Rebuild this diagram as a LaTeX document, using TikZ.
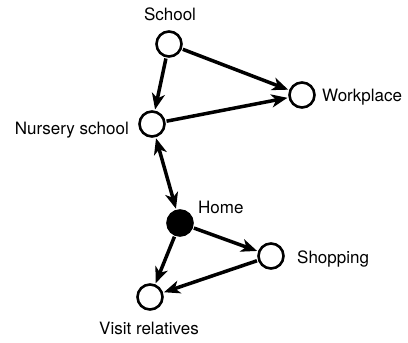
\documentclass[tikz,border=0pt]{standalone}
\usepackage{fontspec}
\setmainfont{TeX Gyre Heros}
\usetikzlibrary{arrows.meta}

\tikzset{
  >={Stealth[length=16pt, width=13pt, inset=4.5pt]},
  place/.style={circle, draw, line width=2.6pt, minimum size=25pt, inner sep=0pt, fill=white},
  home/.style={place, fill=black},
  tag/.style={font=\fontsize{17}{20}\selectfont, inner sep=1pt},
  trip/.style={line width=3.5pt, ->, shorten >=1pt, shorten <=1pt}
}

\begin{document}
\begin{tikzpicture}[x=1pt,y=-1pt]
    \useasboundingbox (0,0) rectangle (408,343);

    \node[place] (sch) at (169,44) {};
    \node[place] (wrk) at (302,95) {};
    \node[place] (nur) at (152,124) {};
    \node[home] (hom) at (180,223) {};
    \node[place] (shp) at (271,256) {};
    \node[place] (vis) at (150,297) {};

    \node[tag] (schl) at (170,14) {School};
    \node[tag, anchor=west] (wrkl) at (321,97) {Workplace};
    \node[tag, anchor=east] (nurl) at (130,130) {Nursery school};
    \node[tag, anchor=west] (homl) at (197,207) {Home};
    \node[tag, anchor=west] (shpl) at (296,259) {Shopping};
    \node[tag] (visl) at (149,328) {Visit relatives};

    \draw[trip] (sch) to (nur);
    \draw[trip] (sch) to (wrk);
    \draw[trip] (nur) to (wrk);
    \draw[trip, <->] (nur) to (hom);
    \draw[trip] (hom) to (shp);
    \draw[trip] (hom) to (vis);
    \draw[trip] (shp) to (vis);
  \end{tikzpicture}
\end{document}
